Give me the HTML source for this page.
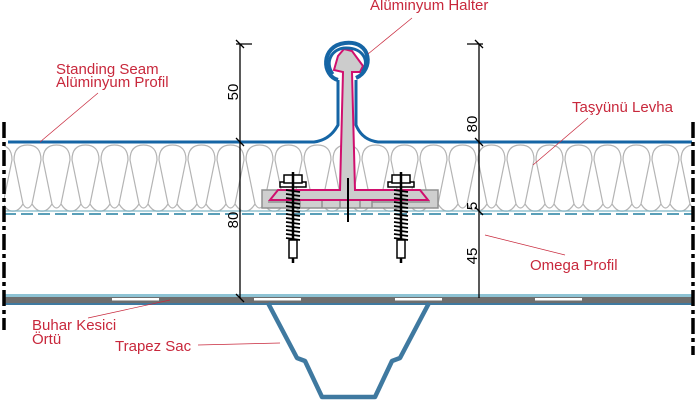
<!DOCTYPE html>
<html><head><meta charset="utf-8"><style>
html,body{margin:0;padding:0;background:#fff;}
svg{display:block;}
text{font-family:"Liberation Sans",sans-serif;}
.l{fill:#c8283c;font-size:15px;}
.d{fill:#000;font-size:15px;}
</style></head><body>
<svg width="700" height="400" viewBox="0 0 700 400" xmlns="http://www.w3.org/2000/svg">
<defs>
<g id="cell">
<path d="M1,160 Q1,145 14.5,145 Q28,145 28,160 L19,204 Q14.5,212 10,204 Z M19,204 Q24,212 29,211 Q34,212 39,204" fill="none" stroke="#b4b4b4" stroke-width="1.2"/>
</g>
<g id="screw">
<rect x="-13" y="182" width="26" height="5" fill="#fff" stroke="#000" stroke-width="1.5"/>
<rect x="-9" y="175" width="18" height="8" fill="#fff" stroke="#000" stroke-width="1.5"/>
<line x1="0" y1="172" x2="0" y2="263" stroke="#000" stroke-width="2.5"/>
<path d="M-7,190 L7,192 M-7,194 L7,196 M-7,198 L7,200 M-7,202 L7,204 M-7,206 L7,208 M-7,210 L7,212 M-7,214 L7,216 M-7,218 L7,220 M-7,222 L7,224 M-7,226 L7,228 M-7,230 L7,232 M-7,234 L7,236 M-7,238 L7,240" stroke="#000" stroke-width="1.8"/>
<rect x="-4" y="240" width="8" height="18" fill="#fff" stroke="#000" stroke-width="1.5"/>
</g>
</defs>
<!-- insulation -->
<g>
<use href="#cell" x="-16"/><use href="#cell" x="13"/><use href="#cell" x="42"/><use href="#cell" x="71"/><use href="#cell" x="100"/><use href="#cell" x="129"/><use href="#cell" x="158"/><use href="#cell" x="187"/><use href="#cell" x="216"/><use href="#cell" x="245"/><use href="#cell" x="274"/><use href="#cell" x="303"/><use href="#cell" x="332"/><use href="#cell" x="361"/><use href="#cell" x="390"/><use href="#cell" x="419"/><use href="#cell" x="448"/><use href="#cell" x="477"/><use href="#cell" x="506"/><use href="#cell" x="535"/><use href="#cell" x="564"/><use href="#cell" x="593"/><use href="#cell" x="622"/><use href="#cell" x="651"/><use href="#cell" x="680"/>
</g>
<rect x="0" y="140" width="4" height="75" fill="#fff"/>
<rect x="694" y="140" width="6" height="75" fill="#fff"/>
<line x1="4" y1="211" x2="694" y2="211" stroke="#7fb6c8" stroke-width="1.2"/>
<line x1="4" y1="214" x2="694" y2="214" stroke="#5a9fb8" stroke-width="2" stroke-dasharray="12,5"/>
<!-- base plate -->
<path d="M262,190 H438 V208 H262 Z" fill="#cfcfcf" stroke="#909090" stroke-width="1.5"/>
<path d="M300,196 V208 M322,196 V208 M340,196 V208 M360,196 V208 M372,196 V208 M300,196 H372 M268,202 H300 M372,202 H430" stroke="#909090" stroke-width="1.5" fill="none"/>
<!-- halter pink -->
<path d="M270,200 L278,190 H340 L343,72 L334,70 L338,56 L344,49 L352,51 L363,66 L360,72 L352,72 L355,190 H420 L428,200 Z" fill="#cccccc" stroke="#d0106e" stroke-width="2"/>
<line x1="348" y1="178" x2="348" y2="222" stroke="#000" stroke-width="2"/>
<use href="#screw" x="293"/>
<use href="#screw" x="401"/>
<!-- blue roof profile -->
<path d="M8,142 H314 Q330,140 338,125 V80" fill="none" stroke="#1565a5" stroke-width="3"/>
<path d="M692,142 H378 Q362,140 356,125 V80" fill="none" stroke="#1565a5" stroke-width="3"/>
<path d="M338,80 C322,76 320,46 345,43 C372,40 374,70 356,78" fill="none" stroke="#1565a5" stroke-width="4"/>
<path d="M333,74 C324,62 332,48 346,48 C364,48 370,62 362,72" fill="none" stroke="#1565a5" stroke-width="3"/>
<!-- deck -->
<rect x="4" y="294" width="690" height="3" fill="#8ec3d4"/>
<rect x="4" y="297" width="690" height="6" fill="#6e6e6e"/>
<rect x="4" y="303" width="690" height="2" fill="#3f79a0"/>
<rect x="112" y="298" width="47" height="2.5" fill="#fff"/>
<rect x="254" y="298" width="47" height="2.5" fill="#fff"/>
<rect x="395" y="298" width="47" height="2.5" fill="#fff"/>
<rect x="535" y="298" width="47" height="2.5" fill="#fff"/>
<path d="M268,303 L297,358 L305,361 L322,397 L375,397 L392,361 L400,358 L429,303" fill="none" stroke="#3f79a0" stroke-width="4.5" stroke-linejoin="round"/>
<line x1="4" y1="122" x2="4" y2="330" stroke="#000" stroke-width="3.5" stroke-dasharray="16,4,4,4"/>
<line x1="693" y1="122" x2="693" y2="355" stroke="#000" stroke-width="3.5" stroke-dasharray="16,4,4,4"/>
<!-- dimension lines -->
<line x1="240" y1="44" x2="240" y2="298" stroke="#000" stroke-width="1.3"/>
<path d="M236,44 H252 M236,40 L244,48 M236,138 L244,146 M236,294 L244,302" stroke="#000" stroke-width="1.3"/>
<line x1="479" y1="44" x2="479" y2="298" stroke="#000" stroke-width="1.3"/>
<path d="M467,44 H483 M475,40 L483,48 M475,138 L483,146 M475,207 L483,215" stroke="#000" stroke-width="1.3"/>
<text class="d" transform="translate(238,92) rotate(-90)" text-anchor="middle">50</text>
<text class="d" transform="translate(238,220) rotate(-90)" text-anchor="middle">80</text>
<text class="d" transform="translate(477,124) rotate(-90)" text-anchor="middle">80</text>
<text class="d" transform="translate(477,206) rotate(-90)" text-anchor="middle">5</text>
<text class="d" transform="translate(477,256) rotate(-90)" text-anchor="middle">45</text>
<g stroke="#c8283c" stroke-width="0.7" fill="none">
<path d="M98,93 L40,142"/>
<path d="M412,18 L368,54"/>
<path d="M588,118 L533,165"/>
<path d="M565,255 L485,235"/>
<path d="M88,318 L170,300"/>
<path d="M198,345 L280,343"/>
</g>
<text class="l" x="56" y="74">Standing Seam</text>
<text class="l" x="56" y="87">Alüminyum Profil</text>
<text class="l" x="370" y="10">Alüminyum Halter</text>
<text class="l" x="572" y="112">Taşyünü Levha</text>
<text class="l" x="530" y="270">Omega Profil</text>
<text class="l" x="32" y="330">Buhar Kesici</text>
<text class="l" x="32" y="344">Örtü</text>
<text class="l" x="115" y="351">Trapez Sac</text>
</svg>
</body></html>
